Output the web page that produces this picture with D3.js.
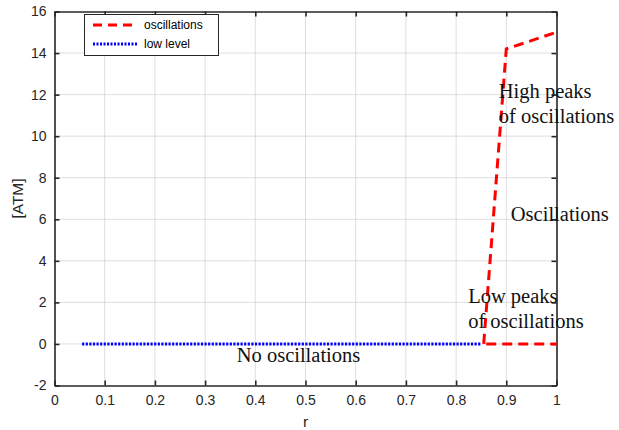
<!DOCTYPE html>
<html><head><meta charset="utf-8">
<script src="https://cdn.jsdelivr.net/npm/d3@7"></script>
<style>body{margin:0;background:#fff}</style>
</head><body>
<svg id="c" width="619" height="430"></svg>
<script>
const xTicks = [0,0.1,0.2,0.3,0.4,0.5,0.6,0.7,0.8,0.9,1];
const yTicks = [-2,0,2,4,6,8,10,12,14,16];
const oscX = [0.855, 0.9, 1.0];
const oscY = [0, 14.2, 15.0];
const oscLowX = [0.86, 1.0];
const oscLowY = [0, 0];
const lowX = [0.055, 0.2, 0.4, 0.6, 0.85];
const lowY = [0, 0, 0, 0, 0];
const labels = [
  {t:"High peaks", x:0.885, y:11.84},
  {t:"of oscillations", x:0.885, y:10.63},
  {t:"Oscillations", x:0.909, y:5.93},
  {t:"Low peaks", x:0.824, y:1.97},
  {t:"of oscillations", x:0.824, y:0.77},
  {t:"No oscillations", x:0.363, y:-0.85}
];
const legendItems = [{name:"oscillations", color:"#ff0000", dash:"9,6", w:3},{name:"low level", color:"#0000ff", dash:"2,1.5", w:3}];

const svg = d3.select("#c");
const L=54.5, R=556.5, T=11.5, B=385.5;
const x = d3.scaleLinear().domain([0,1]).range([L,R]);
const y = d3.scaleLinear().domain([-2,16]).range([B,T]);
const ink = "#262626";

// grid
const g = svg.append("g");
g.selectAll(".vg").data(xTicks.slice(1,-1)).enter().append("line")
 .attr("x1",d=>x(d)).attr("x2",d=>x(d)).attr("y1",T).attr("y2",B)
 .attr("stroke","#bdbdbd").attr("stroke-dasharray","1,1");
g.selectAll(".hg").data(yTicks.slice(1,-1)).enter().append("line")
 .attr("y1",d=>y(d)).attr("y2",d=>y(d)).attr("x1",L).attr("x2",R)
 .attr("stroke","#bdbdbd").attr("stroke-dasharray","1,1");

// axes
const font = "Liberation Sans, Arial, sans-serif";
const ax = svg.append("g").attr("transform",`translate(0,${B})`)
 .call(d3.axisBottom(x).tickValues(xTicks).tickFormat(d=>d===0?"0":d===1?"1":d3.format(".1f")(d)).tickSizeInner(-5).tickSizeOuter(0).tickPadding(10));
const ay = svg.append("g").attr("transform",`translate(${L},0)`)
 .call(d3.axisLeft(y).tickValues(yTicks).tickFormat(d=>String(d)).tickSizeInner(-5).tickSizeOuter(0).tickPadding(8));
const at = svg.append("g").attr("transform",`translate(0,${T})`)
 .call(d3.axisTop(x).tickValues(xTicks).tickFormat("").tickSizeInner(-5).tickSizeOuter(0));
const ar = svg.append("g").attr("transform",`translate(${R},0)`)
 .call(d3.axisRight(y).tickValues(yTicks).tickFormat("").tickSizeInner(-5).tickSizeOuter(0));
[ax,ay,at,ar].forEach(a=>{
  a.selectAll("path").attr("stroke",ink).attr("stroke-width",1.6);
  a.selectAll("line").attr("stroke",ink).attr("stroke-width",1.6);
  a.selectAll("text").attr("fill",ink).attr("font-family",font).attr("font-size",14);
});

// data lines
const line = d3.line().x(d=>x(d[0])).y(d=>y(d[1]));
svg.append("path").datum(lowX.map((v,i)=>[v,lowY[i]])).attr("d",line)
 .attr("fill","none").attr("stroke","#0000ff").attr("stroke-width",3).attr("stroke-dasharray","2.2,1.4");
svg.append("path").datum(oscX.map((v,i)=>[v,oscY[i]])).attr("d",line)
 .attr("fill","none").attr("stroke","#ff0000").attr("stroke-width",3).attr("stroke-dasharray","10,6");
svg.append("path").datum(oscLowX.map((v,i)=>[v,oscLowY[i]])).attr("d",line)
 .attr("fill","none").attr("stroke","#ff0000").attr("stroke-width",3).attr("stroke-dasharray","10,6");

// annotation text
svg.selectAll(".ann").data(labels).enter().append("text")
 .attr("x",d=>x(d.x)).attr("y",d=>y(d.y))
 .attr("font-family","Liberation Serif, Times New Roman, serif").attr("font-size",20.5).attr("fill","#111")
 .text(d=>d.t);

// axis labels
svg.append("text").attr("x",x(0.5)).attr("y",427).attr("text-anchor","middle")
 .attr("font-family",font).attr("font-size",15.5).attr("fill",ink).text("r");
svg.append("text").attr("transform",`translate(23,${y(7)}) rotate(-90)`).attr("text-anchor","middle")
 .attr("font-family",font).attr("font-size",15.5).attr("fill",ink).text("[ATM]");

// legend
const lg = svg.append("g");
lg.append("rect").attr("x",84.5).attr("y",14.5).attr("width",134).attr("height",41)
 .attr("fill","#fff").attr("stroke",ink).attr("stroke-width",1);
legendItems.forEach((d,i)=>{
  const yy = 25 + i*19;
  lg.append("line").attr("x1",93).attr("x2",138).attr("y1",yy).attr("y2",yy)
   .attr("stroke",d.color).attr("stroke-width",d.w).attr("stroke-dasharray",d.dash);
  lg.append("text").attr("x",144).attr("y",yy+4).attr("font-family",font).attr("font-size",12).attr("fill","#000").text(d.name);
});
</script>
</body></html>
